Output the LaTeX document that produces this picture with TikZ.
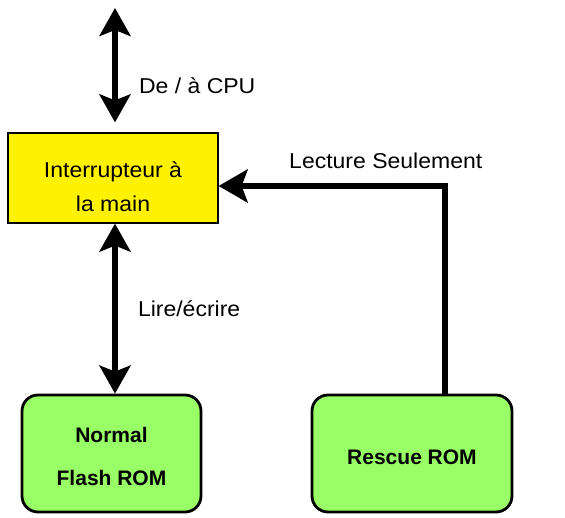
\documentclass[tikz,border=0pt]{standalone}
\usepackage{fontspec}
\setmainfont{Liberation Sans}
\newfontfamily\widefont[FakeStretch=1.07]{Liberation Sans}
\usetikzlibrary{arrows.meta,positioning}

\begin{document}
\begin{tikzpicture}[x=1pt,y=1pt,
            bus/.style={line width=6pt, {Stealth[length=28pt,width=31pt,inset=6pt]}-{Stealth[length=28pt,width=31pt,inset=6pt]}},
            feed/.style={line width=6pt, -{Stealth[length=29pt,width=33pt,inset=6pt]}},
            switchbox/.style={shape=rectangle, draw, line width=1.2pt, fill=yellow, minimum width=210pt, minimum height=90pt},
            rombox/.style={shape=rectangle, draw, line width=2.8pt, rounded corners=16pt, fill=romgreen, minimum height=117pt},
            boxtext/.style={align=center, font=\widefont\fontsize{21.5}{34}\selectfont},
            romtext/.style={align=center, font=\bfseries\fontsize{21}{43}\selectfont},
            lbl/.style={inner sep=0pt, font=\widefont\fontsize{21.5}{26}\selectfont}]
        \definecolor{romgreen}{HTML}{99FF66}
        \useasboundingbox (0,0) rectangle (565,518);

        \node[switchbox, label={[boxtext, yshift=-9pt]center:{Interrupteur à\\la main}}] (switch) at (113,340) {};
        \node[rombox, minimum width=179pt, label={[romtext, yshift=-3pt]center:{Normal\\Flash ROM}}] (flash) at (111.5,64.5) {};
        \node[rombox, minimum width=200pt, label={[romtext, yshift=-4pt]center:{Rescue ROM}}] (rescue) at (412,64.5) {};
        \coordinate (cpu) at (115,510);

        \draw[bus] (cpu) -- node[lbl, pos=0.68, right=21pt] (cpulbl) {De / à CPU} ([xshift=2pt,yshift=10pt]switch.north);
        \draw[bus] ([xshift=2pt]switch.south) -- node[lbl, pos=0.5, right=20pt] (rwlbl) {Lire/écrire} ([xshift=2pt]switch.south |- flash.north);
        \draw[feed, line join=miter] ([xshift=32.5pt]rescue.north) |- node[lbl, pos=0.63, above=14pt] (rolbl) {Lecture Seulement} ([yshift=-8pt]switch.east);
    \end{tikzpicture}
\end{document}
